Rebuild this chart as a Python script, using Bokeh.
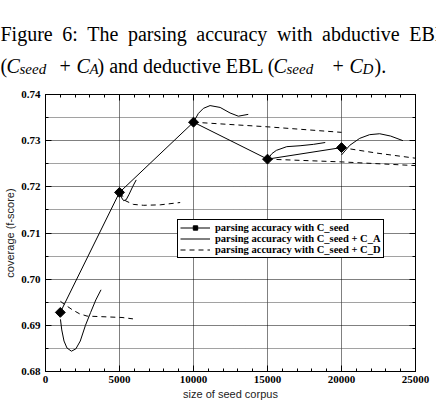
import math
from bokeh.plotting import figure
from bokeh.models import (Range1d, FixedTicker, PrintfTickFormatter, LinearAxis,
                          Legend, LegendItem, CustomJSTickFormatter)
from bokeh.layouts import column
from bokeh.core.properties import value
from bokeh.embed import file_html
from bokeh.resources import INLINE

# ---------------- data ----------------
seed_sizes = [1000, 5000, 10000, 15000, 20000]
acc_seed = [0.6928, 0.7188, 0.7340, 0.7260, 0.7285]

# C_seed + C_A (solid curves, one per seed size)
ca1_x = [1010, 1100, 1250, 1450, 1750, 2050, 2350, 2700, 3050, 3400, 3750]
ca1_y = [0.6913, 0.6890, 0.6866, 0.6851, 0.6844, 0.6849, 0.6866, 0.6900, 0.6928, 0.6955, 0.6977]
ca2_x = [5055, 5150, 5280, 5450, 5650, 5900, 6130]
ca2_y = [0.7188, 0.7176, 0.7170, 0.7172, 0.7184, 0.7201, 0.7215]
ca3_x = [10000, 10330, 10670, 11120, 11800, 12470, 13030, 13700]
ca3_y = [0.7340, 0.7359, 0.7370, 0.7376, 0.7372, 0.7360, 0.7353, 0.7357]
ca4_x = [15010, 15300, 15600, 16300, 17200, 18100, 18900]
ca4_y = [0.7260, 0.7272, 0.7279, 0.7287, 0.7289, 0.7292, 0.7296]
ca5_x = [20000, 20560, 21230, 21900, 22580, 23320, 24150]
ca5_y = [0.7269, 0.7290, 0.7305, 0.7313, 0.7315, 0.7310, 0.7300]

# C_seed + C_D (dashed curves)
cd1_x = [1010, 1300, 1800, 2300, 2810, 3600, 4380, 5170, 5910]
cd1_y = [0.6952, 0.6945, 0.6934, 0.6925, 0.6920, 0.6919, 0.6918, 0.6917, 0.6914]
cd2_x = [5055, 5390, 5930, 6630, 7750, 9100]
cd2_y = [0.7188, 0.7170, 0.7162, 0.7160, 0.7161, 0.7166]
cd3_x = [10000, 15000, 20000]
cd3_y = [0.7340, 0.7330, 0.7318]
cd4_x = [15000, 20000, 25000]
cd4_y = [0.7260, 0.7254, 0.7246]
cd5_x = [20000, 22400, 25000]
cd5_y = [0.7285, 0.7273, 0.7262]

x_ticks = [0, 5000, 10000, 15000, 20000, 25000]
y_ticks = [0.68, 0.69, 0.70, 0.71, 0.72, 0.73, 0.74]
y_minor = [0.685, 0.695, 0.705, 0.715, 0.725, 0.735]
x_minor = list(range(0, 25001, 1000))

labels = ["parsing accuracy with C_seed",
          "parsing accuracy with C_seed + C_A",
          "parsing accuracy with C_seed + C_D"]

caption_line1 = ["Figure", "6:", "The", "parsing", "accuracy", "with", "abductive", "EBL"]
caption_line2_roman = ["(", "+", ") and deductive EBL (", "+", ")."]
caption_line2_italic = ["C", "C", "C", "C"]
caption_line2_sub = ["seed", "A", "seed", "D"]

# ---------------- caption figure ----------------
W = 436
CAP_H = 80
cap = figure(width=W, height=CAP_H, x_range=Range1d(0, W), y_range=Range1d(CAP_H, 0),
             x_axis_type=None, y_axis_type=None, min_border=0,
             toolbar_location=None, output_backend="svg")
cap.frame_align = False
cap.grid.visible = False
cap.outline_line_color = None

serif = value("Liberation Serif")
line1_pos = [0, 61.7, 86.8, 127.4, 195.8, 276.4, 321.5, 408.8]
cap.text(x=line1_pos, y=[33] * len(caption_line1), text=caption_line1,
         text_font=serif, text_font_size="20px", text_baseline="alphabetic",
         text_align="left", text_color="black")
cap.text(x=[0, 59, 97, 332, 374], y=[65] * 5, text=caption_line2_roman,
         text_font=serif, text_font_size="20px", text_baseline="alphabetic",
         text_align="left", text_color="black")
cap.text(x=[6, 76, 273, 349], y=[65] * 4, text=caption_line2_italic, text_font=serif,
         text_font_size="20px", text_font_style="italic",
         text_baseline="alphabetic", text_align="left", text_color="black")
cap.text(x=[19, 89, 286, 362], y=[68.5] * 4, text=caption_line2_sub, text_font=serif,
         text_font_size="15px", text_font_style="italic",
         text_baseline="alphabetic", text_align="left", text_color="black")

# ---------------- main plot ----------------
p = figure(width=W, height=402 - CAP_H, x_range=Range1d(0, 25000),
           y_range=Range1d(0.68, 0.74), toolbar_location=None, output_backend="svg",
           min_border_left=45, min_border_right=21, min_border_top=14, min_border_bottom=30)
p.frame_align = False
p.outline_line_color = "black"
p.outline_line_width = 1

xt = FixedTicker(ticks=x_ticks, minor_ticks=x_minor)
yt = FixedTicker(ticks=y_ticks, minor_ticks=y_minor)
p.xaxis.ticker = xt
p.yaxis.ticker = yt
p.xgrid.ticker = xt
p.ygrid.ticker = yt
p.xaxis.formatter = PrintfTickFormatter(format="%d")
p.yaxis.formatter = PrintfTickFormatter(format="%.2f")

for ax in (p.xaxis[0], p.yaxis[0]):
    ax.major_tick_in = 6
    ax.major_tick_out = 0
    ax.minor_tick_in = 3
    ax.minor_tick_out = 0
    ax.axis_line_color = "black"
    ax.major_tick_line_color = "black"
    ax.minor_tick_line_color = "black"
    ax.major_label_text_font = "Liberation Serif"
    ax.major_label_text_font_style = "bold"
    ax.major_label_text_font_size = "11px"
    ax.major_label_text_color = "black"
    ax.axis_label_text_font = "Liberation Sans"
    ax.axis_label_text_font_style = "normal"
    ax.axis_label_text_font_size = "11px"
    ax.axis_label_text_color = "#222222"
    ax.axis_label_standoff = 2
p.xaxis.major_label_standoff = 4
p.yaxis.major_label_standoff = 5
p.xaxis.axis_label = "size of seed corpus"
p.yaxis.axis_label = "coverage (f-score)"

# mirrored axes (ticks only, no labels)
blank = CustomJSTickFormatter(code="return ''")
top = LinearAxis(ticker=xt, formatter=blank, major_tick_in=6,
                 major_tick_out=0, minor_tick_in=3, minor_tick_out=0,
                 axis_line_color="black", major_label_standoff=0)
right = LinearAxis(ticker=yt, formatter=blank, major_tick_in=6,
                   major_tick_out=0, minor_tick_in=3, minor_tick_out=0,
                   axis_line_color="black", major_label_standoff=0)
p.add_layout(top, "above")
p.add_layout(right, "right")

p.xgrid.grid_line_color = "black"
p.xgrid.grid_line_dash = "1 1"
p.xgrid.grid_line_alpha = 1
p.ygrid.grid_line_color = "black"
p.ygrid.grid_line_dash = "1 1"
p.ygrid.grid_line_alpha = 1
p.ygrid.minor_grid_line_color = "#444444"
p.ygrid.minor_grid_line_dash = "1 1"
p.ygrid.minor_grid_line_alpha = 1

r_seed_line = p.line(seed_sizes, acc_seed, line_color="black", line_width=1)
r_seed_pts = p.scatter(seed_sizes, acc_seed, marker="square", angle=math.pi / 4, size=7,
                       fill_color="black", line_color="black")
r_ca = p.multi_line([ca1_x, ca2_x, ca3_x, ca4_x, ca5_x],
                    [ca1_y, ca2_y, ca3_y, ca4_y, ca5_y],
                    line_color="black", line_width=1)
r_cd = p.multi_line([cd1_x, cd2_x, cd3_x, cd4_x, cd5_x],
                    [cd1_y, cd2_y, cd3_y, cd4_y, cd5_y],
                    line_color="black", line_width=1, line_dash="5 4")

legend = Legend(items=[LegendItem(label=labels[0], renderers=[r_seed_line, r_seed_pts]),
                       LegendItem(label=labels[1], renderers=[r_ca]),
                       LegendItem(label=labels[2], renderers=[r_cd])],
                location=(132, 113))
legend.border_line_color = "black"
legend.border_line_width = 1
legend.border_line_alpha = 1
legend.background_fill_color = "white"
legend.background_fill_alpha = 1
legend.label_text_font = "Liberation Serif"
legend.label_text_font_style = "bold"
legend.label_text_font_size = "10.5px"
legend.label_text_color = "black"
legend.glyph_width = 30
legend.glyph_height = 11
legend.label_height = 11
legend.spacing = 0
legend.padding = 2
legend.margin = 0
legend.label_standoff = 5
p.add_layout(legend, "center")

layout = column(cap, p, spacing=0)
open("out.html", "w").write(file_html(layout, INLINE))
